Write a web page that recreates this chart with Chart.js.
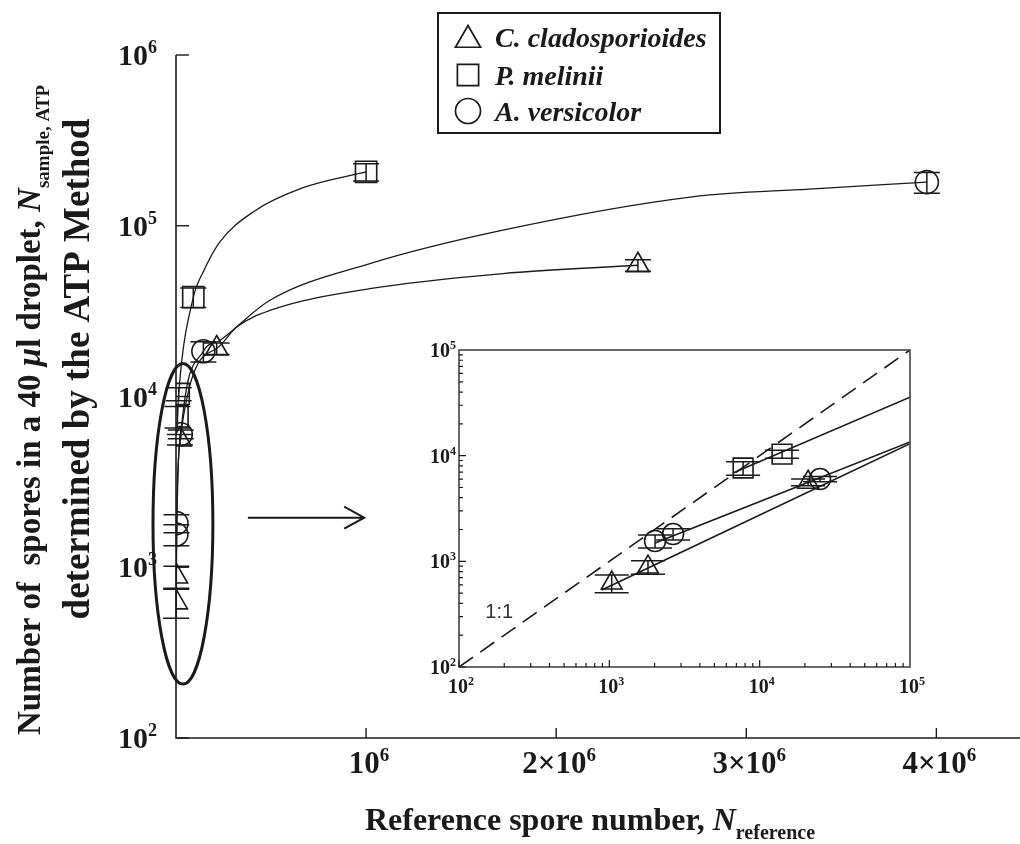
<!DOCTYPE html>
<html>
<head>
<meta charset="utf-8">
<script src="https://cdn.jsdelivr.net/npm/chart.js@4.4.0/dist/chart.umd.min.js"></script>
<style>
  html, body { margin: 0; padding: 0; background: #fff; }
  #wrap { position: relative; width: 1020px; height: 844px; }
  #main { position: absolute; left: 0; top: 0; }
  #inset { position: absolute; left: 380px; top: 320px; }
</style>
</head>
<body>
<div id="wrap">
  <canvas id="main" width="1020" height="844"></canvas>
  <canvas id="inset" width="560" height="400"></canvas>
</div>
<script>
// measured points (x = reference number, y = ATP number)
const triX = [1037, 1808, 21000, 214000, 2430000];
const triY = [623, 883, 5600, 19100, 58700];
const triErr = [120, 130, 400, 1500, 4600];

const sqX = [7760, 14090, 91000, 1000000];
const sqY = [7640, 10350, 38200, 207000];
const sqErr = [1100, 900, 5000, 24000];

const circX = [2014, 2655, 25200, 144000, 3950000];
const circY = [1556, 1813, 6010, 18400, 180000];
const circErr = [220, 220, 350, 2500, 25000];

// fitted curves
const triCurveX = [1037, 1808, 21000, 214000, 319000, 494000, 1020000, 1720000, 2430000];
const triCurveY = [623, 883, 5600, 19100, 25500, 31900, 42800, 52500, 58700];
const sqCurveX = [7760, 14090, 91000, 143000, 231000, 406000, 669000, 1000000];
const sqCurveY = [7640, 10350, 38200, 53600, 80400, 120500, 167000, 207000];
const circCurveX = [2014, 2655, 25200, 144000, 231000, 494000, 1020000, 1720000, 2716000, 3330000, 3950000];
const circCurveY = [1556, 1813, 6010, 18400, 21300, 36600, 60000, 94200, 147600, 164000, 180000];

// fitted lines in the log-log inset
const triFitX = [890, 100000];
const triFitY = [535, 13000];
const sqFitX = [6650, 100000];
const sqFitY = [6840, 35800];
const circFitX = [2014, 100000];
const circFitY = [1490, 13500];
const oneToOneX = [100, 100000];
const oneToOneY = [100, 100000];

// only the points inside the ellipse are repeated in the inset
const insetMaxX = 50000;

// axis ticks
const mainXTicks = [1e6, 2e6, 3e6, 4e6];
const mainXPrefix = ['', '2\u00d7', '3\u00d7', '4\u00d7'];
const mainYTicks = [1e2, 1e3, 1e4, 1e5, 1e6];
const mainYExp = ['2', '3', '4', '5', '6'];
const insetTicks = [1e2, 1e3, 1e4, 1e5];
const insetExp = ['2', '3', '4', '5'];

const species = ['C. cladosporioides', 'P. melinii', 'A. versicolor'];
const speciesStyle = ['triangle', 'rect', 'circle'];

const serif = '"Liberation Serif", "Times New Roman", serif';
const ink = '#1a1a1a';

function ptsOf(xs, ys) { return xs.map((x, i) => ({ x: x, y: ys[i] })); }

function richWidth(ctx, segs) {
  let w = 0;
  segs.forEach(s => { ctx.font = s.font; w += ctx.measureText(s.t).width; });
  return w;
}
function drawRich(ctx, segs, x, y, align) {
  const w = richWidth(ctx, segs);
  let cx = align === 'center' ? x - w / 2 : (align === 'right' ? x - w : x);
  ctx.textAlign = 'left';
  ctx.textBaseline = 'alphabetic';
  segs.forEach(s => {
    ctx.font = s.font;
    ctx.fillText(s.t, cx, y + (s.dy || 0));
    cx += ctx.measureText(s.t).width;
  });
}
function powSegs(pre, exp, size, supSize, weight) {
  return [
    { t: pre + '10', font: weight + ' ' + size + 'px ' + serif },
    { t: exp, font: weight + ' ' + supSize + 'px ' + serif, dy: -size * 0.4 }
  ];
}

const errorBars = {
  id: 'errorBars',
  afterDatasetsDraw(chart, args, opts) {
    const ctx = chart.ctx, xs = chart.scales.x, ys = chart.scales.y, a = chart.chartArea;
    ctx.save();
    if (opts.clip) { ctx.beginPath(); ctx.rect(a.left, a.top, a.right - a.left, a.bottom - a.top); ctx.clip(); }
    ctx.strokeStyle = ink;
    ctx.lineWidth = 1.5;
    chart.data.datasets.forEach(ds => {
      if (!ds.err) return;
      ds.data.forEach((p, j) => {
        const px = xs.getPixelForValue(p.x);
        const lo = ys.getPixelForValue(p.y - ds.err[j]);
        const hi = ys.getPixelForValue(p.y + ds.err[j]);
        const c = opts.cap / 2;
        ctx.beginPath();
        ctx.moveTo(px, lo); ctx.lineTo(px, hi);
        ctx.moveTo(px - c, lo); ctx.lineTo(px + c, lo);
        ctx.moveTo(px - c, hi); ctx.lineTo(px + c, hi);
        ctx.stroke();
      });
    });
    ctx.restore();
  }
};

const ellipseBox = { x0: -1.21e5, x1: 1.94e5, y0: 207, y1: 15600 };
const arrowAt = { x0: 3.78e5, x1: 9.9e5, y: 1950 };

const mainDecor = {
  id: 'mainDecor',
  afterDraw(chart) {
    const ctx = chart.ctx, a = chart.chartArea, xs = chart.scales.x, ys = chart.scales.y;
    ctx.save();
    ctx.strokeStyle = ink;
    ctx.fillStyle = ink;
    ctx.lineWidth = 1.6;
    ctx.beginPath();
    ctx.moveTo(a.left, a.top); ctx.lineTo(a.left, a.bottom); ctx.lineTo(a.right, a.bottom);
    ctx.stroke();
    ctx.lineWidth = 1.4;
    mainYTicks.forEach((v, i) => {
      const y = ys.getPixelForValue(v);
      ctx.beginPath(); ctx.moveTo(a.left, y); ctx.lineTo(a.left + 13, y); ctx.stroke();
      drawRich(ctx, powSegs('', mainYExp[i], 30, 18, 'bold'), a.left - 19, y + 10, 'right');
    });
    mainXTicks.forEach((v, i) => {
      const x = xs.getPixelForValue(v);
      ctx.beginPath(); ctx.moveTo(x, a.bottom); ctx.lineTo(x, a.bottom - 10); ctx.stroke();
      drawRich(ctx, powSegs(mainXPrefix[i], '6', 31, 19, 'bold'), x + 3, a.bottom + 35, 'center');
    });

    // x title
    drawRich(ctx, [
      { t: 'Reference spore number, ', font: 'bold 32px ' + serif },
      { t: 'N', font: 'italic bold 32px ' + serif },
      { t: 'reference', font: 'bold 20px ' + serif, dy: 9 }
    ], 590, 830, 'center');

    // y title (two lines)
    ctx.save();
    ctx.translate(40, 410);
    ctx.rotate(-Math.PI / 2);
    drawRich(ctx, [
      { t: 'Number of  spores in a 40 ', font: 'bold 33px ' + serif },
      { t: '\u03bc', font: 'italic bold 33px ' + serif },
      { t: 'l droplet, ', font: 'bold 33px ' + serif },
      { t: 'N', font: 'italic bold 33px ' + serif },
      { t: 'sample, ATP', font: 'bold 19px ' + serif, dy: 9 }
    ], 0, 0, 'center');
    ctx.restore();
    ctx.save();
    ctx.translate(89, 369);
    ctx.rotate(-Math.PI / 2);
    drawRich(ctx, [{ t: 'determined by the ATP Method', font: 'bold 37px ' + serif }], 0, 0, 'center');
    ctx.restore();

    // ellipse around the low-count points and arrow to the inset
    const ex0 = xs.getPixelForValue(ellipseBox.x0), ex1 = xs.getPixelForValue(ellipseBox.x1);
    const ey0 = ys.getPixelForValue(ellipseBox.y1), ey1 = ys.getPixelForValue(ellipseBox.y0);
    ctx.lineWidth = 3;
    ctx.beginPath();
    ctx.ellipse((ex0 + ex1) / 2, (ey0 + ey1) / 2, (ex1 - ex0) / 2, (ey1 - ey0) / 2, 0, 0, Math.PI * 2);
    ctx.stroke();
    const ax0 = xs.getPixelForValue(arrowAt.x0), ax1 = xs.getPixelForValue(arrowAt.x1), ay = ys.getPixelForValue(arrowAt.y);
    ctx.lineWidth = 2;
    ctx.beginPath();
    ctx.moveTo(ax0, ay); ctx.lineTo(ax1, ay);
    ctx.moveTo(ax1 - 20, ay - 11); ctx.lineTo(ax1, ay); ctx.lineTo(ax1 - 20, ay + 11);
    ctx.stroke();

    // legend
    ctx.lineWidth = 2;
    ctx.strokeRect(438, 13, 282, 120);
    const rowY = [37, 75, 111];
    const legR = [14.5, 15, 12.5];
    species.forEach((name, i) => {
      ctx.fillStyle = 'rgba(0,0,0,0)';
      ctx.strokeStyle = ink;
      ctx.lineWidth = 1.7;
      Chart.helpers.drawPoint(ctx, { pointStyle: speciesStyle[i], radius: legR[i], rotation: 0, borderWidth: 1.7 }, 468, rowY[i] + (i === 0 ? 3 : 0));
      ctx.fillStyle = ink;
      ctx.font = 'italic bold 28px ' + serif;
      ctx.textAlign = 'left';
      ctx.textBaseline = 'alphabetic';
      ctx.fillText(name, 495, rowY[i] + 10);
    });
    ctx.restore();
  }
};

function markerSet(xs, ys, errs, style, r) {
  return {
    data: ptsOf(xs, ys), err: errs, showLine: false, pointStyle: style, pointRadius: r,
    pointBorderColor: ink, pointBackgroundColor: 'rgba(0,0,0,0)', pointBorderWidth: 1.6
  };
}
function curveSet(xs, ys, w) {
  return {
    data: ptsOf(xs, ys), showLine: true, pointRadius: 0, borderColor: ink, borderWidth: w,
    cubicInterpolationMode: 'monotone', fill: false
  };
}

new Chart(document.getElementById('main'), {
  type: 'scatter',
  data: {
    datasets: [
      curveSet(triCurveX, triCurveY, 1.3),
      curveSet(sqCurveX, sqCurveY, 1.3),
      curveSet(circCurveX, circCurveY, 1.3),
      markerSet(triX, triY, triErr, 'triangle', 13),
      markerSet(sqX, sqY, sqErr, 'rect', 15),
      markerSet(circX, circY, circErr, 'circle', 11.5)
    ]
  },
  options: {
    responsive: false,
    animation: false,
    layout: { autoPadding: false, padding: { left: 176, top: 55, right: 0, bottom: 106 } },
    plugins: { legend: { display: false }, tooltip: { enabled: false }, errorBars: { cap: 26, clip: false } },
    scales: {
      x: { type: 'linear', min: 0, max: 4.44e6, grid: { display: false, drawTicks: false }, border: { display: false }, ticks: { display: false } },
      y: { type: 'logarithmic', min: 100, max: 1e6, grid: { display: false, drawTicks: false }, border: { display: false }, ticks: { display: false } }
    }
  },
  plugins: [errorBars, mainDecor]
});

const oneToOneLabel = { x: 185, y: 331 };

const insetDecor = {
  id: 'insetDecor',
  beforeDraw(chart) {
    const ctx = chart.ctx, a = chart.chartArea;
    ctx.save();
    ctx.fillStyle = '#fff';
    ctx.fillRect(a.left, a.top, a.right - a.left, a.bottom - a.top);
    ctx.restore();
  },
  afterDraw(chart) {
    const ctx = chart.ctx, a = chart.chartArea, xs = chart.scales.x, ys = chart.scales.y;
    ctx.save();
    ctx.strokeStyle = '#444';
    ctx.fillStyle = ink;
    ctx.lineWidth = 1.6;
    ctx.strokeRect(a.left, a.top, a.right - a.left, a.bottom - a.top);
    ctx.strokeStyle = ink;
    ctx.lineWidth = 1.2;
    for (let d = 100; d < 1e5; d *= 10) {
      for (let k = 1; k < 10; k++) {
        const v = d * k, len = k === 1 ? 7 : 4;
        const x = xs.getPixelForValue(v), y = ys.getPixelForValue(v);
        ctx.beginPath();
        ctx.moveTo(x, a.bottom); ctx.lineTo(x, a.bottom - len);
        ctx.moveTo(a.left, y); ctx.lineTo(a.left + len, y);
        ctx.stroke();
      }
    }
    insetTicks.forEach((v, i) => {
      const x = xs.getPixelForValue(v), y = ys.getPixelForValue(v);
      drawRich(ctx, powSegs('', insetExp[i], 20, 12, 'bold'), x + 2, a.bottom + 26, 'center');
      drawRich(ctx, powSegs('', insetExp[i], 20, 12, 'bold'), a.left - 3, y + 7, 'right');
    });
    ctx.font = '20px "Liberation Sans", Arial, sans-serif';
    ctx.fillStyle = '#333';
    ctx.textAlign = 'center';
    ctx.textBaseline = 'middle';
    ctx.fillText('1:1', xs.getPixelForValue(oneToOneLabel.x), ys.getPixelForValue(oneToOneLabel.y));
    ctx.restore();
  }
};

function keepInset(xs, ys, errs) {
  const idx = xs.map((x, i) => i).filter(i => xs[i] <= insetMaxX);
  return [idx.map(i => xs[i]), idx.map(i => ys[i]), idx.map(i => errs[i])];
}
const tIn = keepInset(triX, triY, triErr);
const sIn = keepInset(sqX, sqY, sqErr);
const cIn = keepInset(circX, circY, circErr);

const oneToOne = curveSet(oneToOneX, oneToOneY, 1.6);
oneToOne.borderDash = [17, 9];
oneToOne.cubicInterpolationMode = 'default';

new Chart(document.getElementById('inset'), {
  type: 'scatter',
  data: {
    datasets: [
      oneToOne,
      curveSet(triFitX, triFitY, 1.6),
      curveSet(sqFitX, sqFitY, 1.6),
      curveSet(circFitX, circFitY, 1.6),
      markerSet(tIn[0], tIn[1], tIn[2], 'triangle', 12),
      markerSet(sIn[0], sIn[1], sIn[2], 'rect', 14),
      markerSet(cIn[0], cIn[1], cIn[2], 'circle', 10.5)
    ]
  },
  options: {
    responsive: false,
    animation: false,
    layout: { autoPadding: false, padding: { left: 79, top: 30, right: 30, bottom: 53 } },
    plugins: { legend: { display: false }, tooltip: { enabled: false }, errorBars: { cap: 34, clip: true } },
    scales: {
      x: { type: 'logarithmic', min: 100, max: 1e5, grid: { display: false, drawTicks: false }, border: { display: false }, ticks: { display: false } },
      y: { type: 'logarithmic', min: 100, max: 1e5, grid: { display: false, drawTicks: false }, border: { display: false }, ticks: { display: false } }
    }
  },
  plugins: [insetDecor, errorBars]
});
</script>
</body>
</html>
